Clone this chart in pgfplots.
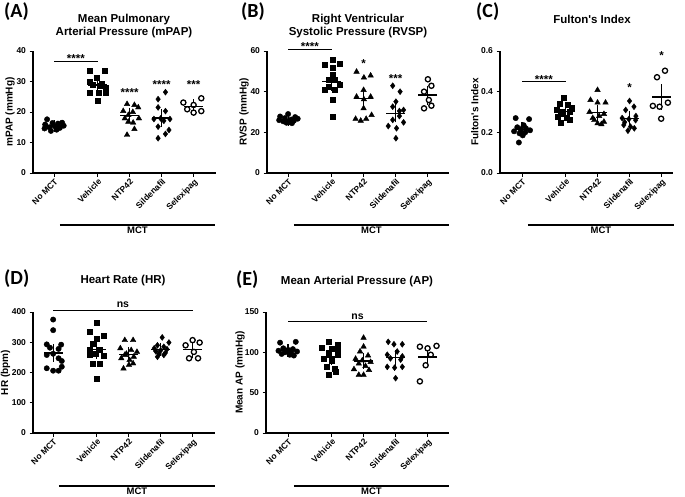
\documentclass[border=0pt]{standalone}
\usepackage{pgfplots}
\pgfplotsset{compat=1.18}
\usepackage{fontspec}
\setmainfont{Liberation Sans}
\newfontfamily\carlito{Carlito}
\newcommand{\letterfont}{\carlito\bfseries\fontsize{20}{22}\selectfont}
\newcommand{\titlefont}{\bfseries\fontsize{11.5}{13}\selectfont}
\newcommand{\starfont}{\bfseries\fontsize{11.5}{12}\selectfont}
\newcommand{\nsfont}{\bfseries\fontsize{10.5}{12}\selectfont}
\newcommand{\mctfont}{\bfseries\fontsize{9.5}{11}\selectfont}

\pgfplotsset{
 panel/.style={
  scale only axis, anchor=south west,
  axis lines=left,
  axis line style={-, line width=1.1pt},
  every tick/.style={black, line width=1pt},
  major tick length=3.5pt,
  tick align=outside,
  clip=false,
  xtick={0,1.36,2.36,3.36,4.36},
  xticklabels={No MCT,Vehicle,NTP42,Sildenafil,Selexipag},
  xticklabel style={rotate=45, anchor=north east, inner sep=1pt, font=\bfseries\fontsize{8.5}{9}\selectfont},
  yticklabel style={font=\bfseries\fontsize{8.5}{9}\selectfont},
  /pgf/number format/assume math mode=true,
  every axis y label/.style={rotate=90, anchor=center, font=\bfseries\fontsize{10}{11}\selectfont},
 },
 dot/.style={only marks, mark=*, mark size=2.7pt, black},
 sq/.style={only marks, mark=square*, mark size=2.5pt, black},
 tri/.style={only marks, mark=triangle*, mark size=3.2pt, black},
 dia/.style={only marks, mark=diamond*, mark size=3pt, black},
 ring/.style={only marks, mark=*, mark size=2.6pt, mark options={draw=black, fill=white, line width=1.3pt}},
 msem/.style={only marks, black, mark=-, mark size=9.5pt, mark options={line width=1.4pt},
   error bars/.cd, y dir=both, y explicit, error bar style={line width=1.2pt},
   error mark options={line width=1.2pt, mark size=5pt}},
}

\begin{document}
\begin{tikzpicture}
\path[use as bounding box] (0,0) rectangle (685pt,-497pt);

% ---------- Panel letters and titles
\node[anchor=base west, font=\letterfont, inner sep=0] at (4pt,-18pt) {(A)};
\node[anchor=base west, font=\letterfont, inner sep=0] at (241pt,-18pt) {(B)};
\node[anchor=base west, font=\letterfont, inner sep=0] at (476pt,-18pt) {(C)};
\node[anchor=base west, font=\letterfont, inner sep=0] at (4pt,-284pt) {(D)};
\node[anchor=base west, font=\letterfont, inner sep=0] at (236pt,-285pt) {(E)};

\node[anchor=base, font=\titlefont, inner sep=0] at (124pt,-22.6pt) {Mean Pulmonary};
\node[anchor=base, font=\titlefont, inner sep=0] at (124pt,-36pt) {Arterial Pressure (mPAP)};
\node[anchor=base, font=\titlefont, inner sep=0] at (358pt,-22.6pt) {Right Ventricular};
\node[anchor=base, font=\titlefont, inner sep=0] at (358pt,-36pt) {Systolic Pressure (RVSP)};
\node[anchor=base, font=\titlefont, inner sep=0] at (592pt,-23.5pt) {Fulton\textquotesingle s Index};
\node[anchor=base, font=\titlefont, inner sep=0] at (123pt,-283.6pt) {Heart Rate (HR)};
\node[anchor=base, font=\titlefont, inner sep=0] at (357pt,-284pt) {Mean Arterial Pressure (AP)};

% ---------- Panel A
\begin{axis}[panel, at={(33pt,-173pt)}, width=183pt, height=122pt,
  xmin=-0.66, xmax=5.06, ymin=0, ymax=40, ytick={0,10,20,30,40},
  ylabel={mPAP (mmHg)}, ylabel style={at={(axis description cs:-0.126,0.5)}}]
\addplot[dot] coordinates {(-0.22,17.6) (0.25,16.5) (-0.05,16.4) (0.12,16.2) (-0.28,15.9) (0.30,15.5) (0.02,15.3) (-0.15,15.0) (0.18,14.8) (-0.30,14.6) (0.08,14.2) (-0.10,13.8)};
\addplot[sq] coordinates {(1.10,33.7) (1.58,33.5) (1.32,31.3) (1.12,30.0) (1.50,29.4) (1.22,28.8) (1.42,28.5) (1.62,28.1) (1.12,26.3) (1.40,26.3) (1.62,26.3) (1.36,23.7)};
\addplot[tri] coordinates {(2.28,22.6) (2.51,22.3) (2.63,21.5) (2.16,20.3) (2.46,20.0) (2.32,19.0) (2.21,17.9) (2.65,17.9) (2.32,16.8) (2.47,16.5) (2.51,14.4) (2.28,12.5)};
\addplot[dia] coordinates {(3.48,26.5) (3.25,24.2) (3.25,21.5) (3.48,20.3) (3.12,17.7) (3.33,17.9) (3.62,17.7) (3.43,17.1) (3.25,15.2) (3.59,14.1) (3.48,12.8) (3.25,11.4)};
\addplot[ring] coordinates {(4.04,23.1) (4.60,24.5) (4.16,20.9) (4.36,22.3) (4.36,19.8) (4.60,20.3)};
\addplot[msem] coordinates {(0,15.4) +- (0,0.3) (1.36,28.8) +- (0,0.9) (2.36,18.9) +- (0,0.9) (3.36,18.0) +- (0,1.3) (4.36,21.8) +- (0,0.7)};
\draw[line width=1pt] (axis cs:0,36.7) -- (axis cs:1.36,36.7);
\node[anchor=base, font=\starfont, inner sep=0] at (axis cs:0.68,36.2) {****};
\node[anchor=base, font=\starfont, inner sep=0] at (axis cs:2.36,25.2) {****};
\node[anchor=base, font=\starfont, inner sep=0] at (axis cs:3.36,27.7) {****};
\node[anchor=base, font=\starfont, inner sep=0] at (axis cs:4.36,27.7) {***};
\draw[line width=1.2pt] ([yshift=-52pt]axis cs:0.18,0) -- ([yshift=-52pt]axis cs:5.03,0) node[midway, below, font=\mctfont, inner sep=1.5pt] {MCT};
\end{axis}

% ---------- Panel B
\begin{axis}[panel, at={(267pt,-173pt)}, width=182pt, height=122pt,
  xmin=-0.66, xmax=5.03, ymin=0, ymax=60, ytick={0,20,40,60},
  ylabel={RVSP (mmHg)}, ylabel style={at={(axis description cs:-0.126,0.5)}}]
\addplot[dot] coordinates {(0,29.0) (-0.25,27.8) (0.22,27.5) (-0.10,27.0) (0.30,26.7) (0.10,26.3) (-0.28,26.0) (0.18,25.7) (-0.15,25.4) (0.05,25.0) (-0.05,24.7) (0.12,24.5)};
\addplot[sq] coordinates {(1.38,55.9) (1.60,54.0) (1.15,53.1) (1.38,51.6) (1.38,48.2) (1.46,46.1) (1.26,45.7) (1.62,43.3) (1.26,42.5) (1.46,41.2) (1.13,40.8) (1.38,35.9) (1.38,27.7)};
\addplot[tri] coordinates {(2.14,49.8) (2.58,47.9) (2.37,46.9) (2.36,40.8) (2.14,37.5) (2.58,37.5) (2.37,36.2) (2.36,31.8) (2.61,28.5) (2.11,26.6) (2.44,26.6) (2.27,25.7)};
\addplot[dia] coordinates {(3.27,42.9) (3.50,40.0) (3.37,35.1) (3.27,32.6) (3.61,31.0) (3.48,30.5) (3.48,28.0) (3.27,26.1) (3.61,24.9) (3.13,23.1) (3.39,22.0) (3.37,17.1)};
\addplot[ring] coordinates {(4.37,46.1) (4.48,42.9) (4.25,40.0) (4.40,35.9) (4.25,31.8) (4.48,33.1)};
\addplot[msem] coordinates {(0,26.1) +- (0,0.4) (1.36,45.1) +- (0,2.1) (2.36,36.5) +- (0,2.5) (3.36,29.4) +- (0,2.1) (4.36,38.3) +- (0,2.2)};
\draw[line width=1pt] (axis cs:0,60.5) -- (axis cs:1.36,60.5);
\node[anchor=base, font=\starfont, inner sep=0] at (axis cs:0.68,60.2) {****};
\node[anchor=base, font=\starfont, inner sep=0] at (axis cs:2.36,51.8) {*};
\node[anchor=base, font=\starfont, inner sep=0] at (axis cs:3.36,44.4) {***};
\draw[line width=1.2pt] ([yshift=-52pt]axis cs:0.18,0) -- ([yshift=-52pt]axis cs:5.03,0) node[midway, below, font=\mctfont, inner sep=1.5pt] {MCT};
\end{axis}

% ---------- Panel C
\begin{axis}[panel, at={(500pt,-173pt)}, width=173pt, height=122pt,
  xmin=-0.69, xmax=4.72, ymin=0, ymax=0.6, ytick={0,0.2,0.4,0.6},
  yticklabel style={/pgf/number format/.cd, fixed, fixed zerofill, precision=1, /tikz/.cd},
  ylabel={Fulton\textquotesingle s Index}, ylabel style={at={(axis description cs:-0.145,0.5)}}]
\addplot[dot] coordinates {(-0.20,0.270) (0.22,0.265) (0.05,0.235) (-0.15,0.225) (0.12,0.220) (-0.05,0.215) (0.25,0.210) (-0.25,0.205) (0.10,0.200) (-0.08,0.195) (0.02,0.185) (-0.10,0.150)};
\addplot[sq] coordinates {(1.31,0.372) (1.17,0.343) (1.43,0.334) (1.56,0.320) (1.07,0.310) (1.28,0.300) (1.48,0.300) (1.21,0.290) (1.12,0.277) (1.38,0.274) (1.48,0.261) (1.22,0.247)};
\addplot[tri] coordinates {(2.36,0.408) (2.14,0.359) (2.36,0.346) (2.61,0.346) (2.11,0.300) (2.56,0.290) (2.41,0.280) (2.21,0.270) (2.26,0.260) (2.56,0.252) (2.36,0.244) (2.48,0.240)};
\addplot[dia] coordinates {(3.36,0.354) (3.50,0.326) (3.24,0.310) (3.56,0.280) (3.13,0.270) (3.34,0.265) (3.55,0.260) (3.21,0.250) (3.18,0.236) (3.39,0.228) (3.51,0.220) (3.31,0.208)};
\addplot[ring] coordinates {(4.47,0.503) (4.22,0.471) (4.56,0.346) (4.09,0.330) (4.30,0.326) (4.35,0.267)};
\addplot[msem] coordinates {(0,0.215) +- (0,0.009) (1.36,0.302) +- (0,0.011) (2.36,0.297) +- (0,0.015) (3.36,0.267) +- (0,0.012) (4.36,0.374) +- (0,0.038)};
\draw[line width=1pt] (axis cs:0,0.449) -- (axis cs:1.36,0.449);
\node[anchor=base, font=\starfont, inner sep=0] at (axis cs:0.68,0.441) {****};
\node[anchor=base, font=\starfont, inner sep=0] at (axis cs:3.36,0.403) {*};
\node[anchor=base, font=\starfont, inner sep=0] at (axis cs:4.36,0.556) {*};
\draw[line width=1.2pt] ([yshift=-52pt]axis cs:0.18,0) -- ([yshift=-52pt]axis cs:4.75,0) node[midway, below, font=\mctfont, inner sep=1.5pt] {MCT};
\end{axis}

% ---------- Panel D
\begin{axis}[panel, at={(33pt,-433pt)}, width=182pt, height=121pt,
  xmin=-0.63, xmax=5.06, ymin=0, ymax=400, ytick={0,100,200,300,400},
  ylabel={HR (bpm)}, ylabel style={at={(axis description cs:-0.151,0.5)}}]
\addplot[dot] coordinates {(0,375) (0,340) (-0.20,293) (0.25,292) (-0.10,282) (0.17,278) (0,262) (-0.20,258) (0.17,247) (0.27,238) (0.27,219) (-0.20,214) (0,206) (0.17,206)};
\addplot[sq] coordinates {(1.36,364) (1.13,334) (1.58,321) (1.36,312) (1.23,296) (1.13,276) (1.46,274) (1.33,263) (1.13,258) (1.58,255) (1.23,230) (1.46,230) (1.36,178)};
\addplot[tri] coordinates {(2.24,307) (2.50,307) (2.10,280) (2.44,274) (2.62,268) (2.29,262) (2.24,258) (2.52,252) (2.13,247) (2.39,241) (2.50,230) (2.37,225) (2.20,213)};
\addplot[dia] coordinates {(3.41,316) (3.62,299) (3.26,290) (3.46,285) (3.16,280) (3.56,277) (3.36,273) (3.21,270) (3.51,265) (3.31,262) (3.46,258) (3.26,252)};
\addplot[ring] coordinates {(4.14,290) (4.36,307) (4.58,299) (4.40,268) (4.25,247) (4.53,247)};
\addplot[msem] coordinates {(0,265) +- (0,13) (1.36,276) +- (0,14) (2.36,259) +- (0,8) (3.36,277) +- (0,5) (4.36,276) +- (0,10)};
\draw[line width=1pt] (axis cs:0,406.6) -- (axis cs:4.36,406.6);
\node[anchor=base, font=\nsfont, inner sep=0] at (axis cs:2.18,416.5) {ns};
\draw[line width=1.2pt] ([yshift=-53pt]axis cs:0.18,0) -- ([yshift=-53pt]axis cs:5.06,0) node[midway, below, font=\mctfont, inner sep=1.5pt] {MCT};
\end{axis}

% ---------- Panel E
\begin{axis}[panel, at={(266pt,-433pt)}, width=183pt, height=121pt,
  xmin=-0.69, xmax=5.03, ymin=0, ymax=150, ytick={0,50,100,150},
  ylabel={Mean AP (mmHg)}, ylabel style={at={(axis description cs:-0.142,0.5)}}]
\addplot[dot] coordinates {(-0.25,112) (0.24,113) (-0.15,105) (0.15,104) (0,103) (-0.30,102) (0.28,101) (-0.10,100) (0.10,99) (-0.20,98) (0.05,97) (0.18,96)};
\addplot[sq] coordinates {(1.26,113) (1.55,110) (1.05,106) (1.36,105) (1.55,103) (1.26,99) (1.55,97) (1.10,92.5) (1.36,90) (1.20,82) (1.46,80) (1.50,76) (1.26,72)};
\addplot[tri] coordinates {(2.36,118) (2.36,107) (2.25,101) (2.50,96) (2.11,92) (2.32,90) (2.58,88) (2.21,86) (2.42,83) (2.06,79) (2.53,78) (2.21,72) (2.36,72)};
\addplot[dia] coordinates {(3.13,113) (3.31,110) (3.57,110) (3.41,101) (3.10,97) (3.57,95) (3.20,92.5) (3.52,91) (3.10,82) (3.57,82) (3.33,81) (3.36,68)};
\addplot[ring] coordinates {(4.12,107) (4.36,105) (4.64,108) (4.46,97) (4.30,84) (4.12,64)};
\addplot[msem] coordinates {(0,102.5) +- (0,1.5) (1.36,94.3) +- (0,3.7) (2.36,89.4) +- (0,3.6) (3.36,93.5) +- (0,3.7) (4.36,94.2) +- (0,6.5)};
\draw[line width=1pt] (axis cs:0,138) -- (axis cs:4.34,138);
\node[anchor=base, font=\nsfont, inner sep=0] at (axis cs:2.17,140.5) {ns};
\draw[line width=1.2pt] ([yshift=-53pt]axis cs:0.18,0) -- ([yshift=-53pt]axis cs:5.03,0) node[midway, below, font=\mctfont, inner sep=1.5pt] {MCT};
\end{axis}
\end{tikzpicture}
\end{document}
